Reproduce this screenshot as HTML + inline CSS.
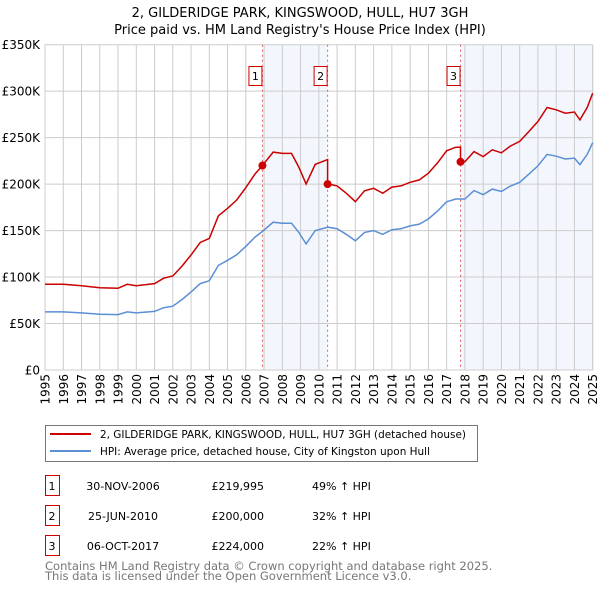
<!DOCTYPE html>
<html><head><meta charset="utf-8"><style>
body{margin:0;background:#fff;font-family:"DejaVu Sans","Liberation Sans",sans-serif;}
svg text{font-family:"DejaVu Sans","Liberation Sans",sans-serif;}
</style></head><body>
<svg id="c" width="600" height="590" xmlns="http://www.w3.org/2000/svg">
<text x="300" y="17" text-anchor="middle" font-size="13">2, GILDERIDGE PARK, KINGSWOOD, HULL, HU7 3GH</text>
<text x="300" y="34" text-anchor="middle" font-size="13">Price paid vs. HM Land Registry's House Price Index (HPI)</text>
<g id="plot"></g>
<g>
<rect x="45.5" y="425.5" width="432" height="36" fill="#fff" stroke="#777"/>
<line x1="50" y1="434" x2="91" y2="434" stroke="#cc0000" stroke-width="2"/>
<text x="100" y="438" font-size="11" textLength="366" lengthAdjust="spacingAndGlyphs">2, GILDERIDGE PARK, KINGSWOOD, HULL, HU7 3GH (detached house)</text>
<line x1="50" y1="451" x2="91" y2="451" stroke="#5b8fd4" stroke-width="2"/>
<text x="100" y="455" font-size="11" textLength="330" lengthAdjust="spacingAndGlyphs">HPI: Average price, detached house, City of Kingston upon Hull</text>
</g>
<g id="rows" font-size="11"></g>
<text x="45" y="570" font-size="11.5" fill="#777">Contains HM Land Registry data © Crown copyright and database right 2025.</text>
<text x="45" y="580" font-size="11.5" fill="#777">This data is licensed under the Open Government Licence v3.0.</text>
</svg>
<script>
const hpiYears=[1995,1996,1997,1998,1999,1999.5,2000,2001,2001.5,2002,2002.5,2003,2003.5,2004,2004.5,2005,2005.5,2006,2006.5,2006.9,2007.5,2008,2008.5,2008.9,2009.3,2009.8,2010.5,2011,2011.5,2012,2012.5,2013,2013.5,2014,2014.5,2015,2015.5,2016,2016.5,2017,2017.5,2018,2018.5,2019,2019.5,2020,2020.5,2021,2021.5,2022,2022.5,2023,2023.5,2024,2024.3,2024.7,2025];
const hpiValues=[62.5,62.5,61.4,60,59.6,62.5,61.4,63,67,68.6,75.7,84,93,96,112.5,118,124,133,143,149,159,158,158,148,135.7,150,153.6,152,146,139,148,150,146,151,152,155,157,162.5,171,181,184,184,193,188.6,194.6,192,198,202,210.7,219.6,232,230,227,228,221,232,244.6];
const saleDates=[2006.91,2010.48,2017.76];
const salePrices=[219995,200000,224000];
const saleLabels=["1","2","3"];
const saleDateText=["30-NOV-2006","25-JUN-2010","06-OCT-2017"];
const salePriceText=["£219,995","£200,000","£224,000"];
const saleHpiText=["49% ↑ HPI","32% ↑ HPI","22% ↑ HPI"];
const yTicks=[0,50,100,150,200,250,300,350];
const yTickLabels=["£0","£50K","£100K","£150K","£200K","£250K","£300K","£350K"];
const xTicks=[];for(let y=1995;y<=2025;y++)xTicks.push(y);

const L=45,R=592.7,T=44.7,B=370;
const X=v=>L+(v-1995)/30*(R-L);
const Y=v=>B-v/350*(B-T);
const NS="http://www.w3.org/2000/svg";
const g=document.getElementById('plot');
function mk(tag,attrs,parent){const e=document.createElementNS(NS,tag);for(const k in attrs)e.setAttribute(k,attrs[k]);(parent||g).appendChild(e);return e;}
function hpiAt(t){for(let i=0;i<hpiYears.length-1;i++){if(t<=hpiYears[i+1]){const f=(t-hpiYears[i])/(hpiYears[i+1]-hpiYears[i]);return hpiValues[i]+f*(hpiValues[i+1]-hpiValues[i]);}}return hpiValues[hpiValues.length-1];}
let s1=mk('rect',{x:X(saleDates[0]),y:T,width:X(saleDates[1])-X(saleDates[0]),height:B-T,fill:'#eef3fc',opacity:0.7});


let s2=mk('rect',{x:X(saleDates[2]),y:T,width:R-X(saleDates[2]),height:B-T,fill:'#eef3fc',opacity:0.7});


yTicks.forEach((v,i)=>{
 let l=mk('line',{x1:L,x2:R,y1:Y(v),y2:Y(v),stroke:'#ccc'});
 
 
 let t=mk('text',{x:L-5,y:Y(v)+4.5,'text-anchor':'end','font-size':12});
 
 
 t.textContent=yTickLabels[i];
});
xTicks.forEach(v=>{
 let l=mk('line',{x1:X(v),x2:X(v),y1:T,y2:B,stroke:'#ccc'});
 
 
 let t=mk('text',{x:0,y:0,'text-anchor':'end','font-size':12,transform:`translate(${X(v)+4.5},${B+4}) rotate(-90)`});
 
 
 t.textContent=v;
});
let ax=mk('path',{d:`M${L},${T}V${B}H${R}V${T}`,fill:'none',stroke:'#ccc'});


saleDates.forEach((d,i)=>{
 let l=mk('line',{x1:X(d),x2:X(d),y1:T,y2:B,stroke:'#e06060','stroke-dasharray':'2,3'});
 
 
 let r=mk('rect',{x:X(d)-13.5,y:66.5,width:13,height:19,fill:'#fff',stroke:'#cc0000'});
 
 
 let t=mk('text',{x:X(d)-7,y:80,'text-anchor':'middle','font-size':11});
 
 
 t.textContent=saleLabels[i];
});
let hp=hpiYears.map((y,i)=>`${i?'L':'M'}${X(y).toFixed(1)},${Y(hpiValues[i]).toFixed(1)}`).join('');
let hl=mk('path',{d:hp,fill:'none',stroke:'#5b8fd4','stroke-width':1.5});


function ratioAt(t){let k=0;for(let i=0;i<saleDates.length;i++)if(t>=saleDates[i])k=i;return salePrices[k]/1000/hpiAt(saleDates[k]);}
let pts=[];
hpiYears.forEach(y=>{
 saleDates.forEach((d,i)=>{if(pts.length&&pts[pts.length-1][0]<d&&y>d){pts.push([d,hpiAt(d)*ratioAt(d-0.001)]);pts.push([d,salePrices[i]/1000]);}});
 pts.push([y,hpiAt(y)*ratioAt(y)]);
});
let rp=pts.map((p,i)=>`${i?'L':'M'}${X(p[0]).toFixed(1)},${Y(p[1]).toFixed(1)}`).join('');
let rl=mk('path',{d:rp,fill:'none',stroke:'#cc0000','stroke-width':1.5});


saleDates.forEach((d,i)=>{
 let c=mk('circle',{cx:X(d),cy:Y(salePrices[i]/1000),r:4,fill:'#cc0000'});
 
 
});
const rows=document.getElementById('rows');
saleLabels.forEach((lab,i)=>{
 const y0=475+i*30;
 let b=mk('rect',{x:45.5,y:y0+0.5,width:14,height:20,fill:'#fff',stroke:'#cc0000'},rows);
 
 
 const cols=[[52,lab,'middle'],[123,saleDateText[i],'middle'],[264,salePriceText[i],'end'],[312,saleHpiText[i],'start']];
 cols.forEach(c=>{
  let t=mk('text',{x:c[0],y:y0+15,'text-anchor':c[2]},rows);
  
  
  t.textContent=c[1];
 });
});
</script>
</body></html>
